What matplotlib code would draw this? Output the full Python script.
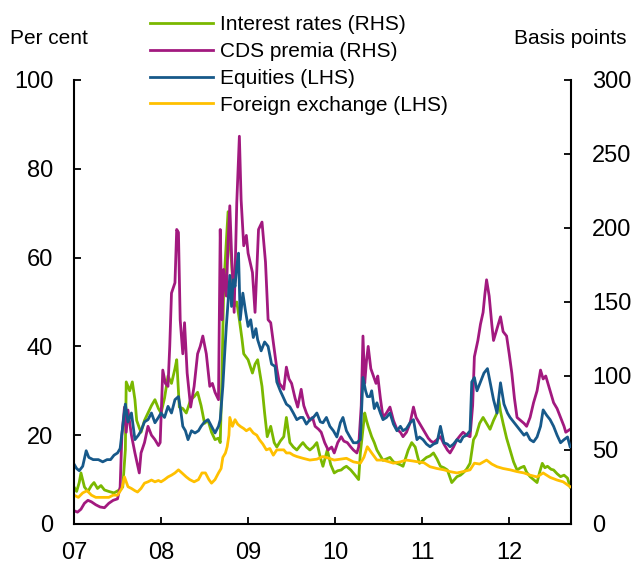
import matplotlib
matplotlib.use("Agg")
import matplotlib.pyplot as plt

plt.rcParams['font.family'] = ['Liberation Sans', 'DejaVu Sans']

# ---------------- data (decimal years) ----------------
eq_t = [2007.00, 2007.03, 2007.06, 2007.10, 2007.14, 2007.17, 2007.22, 2007.28, 2007.33, 2007.38,
        2007.42, 2007.46, 2007.50, 2007.53, 2007.56, 2007.59, 2007.62, 2007.66, 2007.70, 2007.74,
        2007.77, 2007.81, 2007.85, 2007.89, 2007.93, 2007.97, 2008.00, 2008.04, 2008.08, 2008.12,
        2008.16, 2008.20, 2008.23, 2008.25, 2008.28, 2008.31, 2008.35, 2008.39, 2008.43, 2008.46,
        2008.50, 2008.54, 2008.58, 2008.62, 2008.66, 2008.68, 2008.71, 2008.73, 2008.75, 2008.77,
        2008.79, 2008.81, 2008.83, 2008.85, 2008.87, 2008.89, 2008.91, 2008.94, 2008.97, 2009.00,
        2009.03, 2009.06, 2009.09, 2009.11, 2009.15, 2009.19, 2009.23, 2009.27, 2009.31, 2009.33,
        2009.37, 2009.40, 2009.44, 2009.48, 2009.52, 2009.56, 2009.60, 2009.63, 2009.67, 2009.71,
        2009.75, 2009.79, 2009.83, 2009.86, 2009.90, 2009.94, 2009.98, 2010.02, 2010.06, 2010.09,
        2010.13, 2010.17, 2010.21, 2010.25, 2010.29, 2010.32, 2010.35, 2010.37, 2010.40, 2010.42,
        2010.45, 2010.48, 2010.52, 2010.55, 2010.59, 2010.63, 2010.67, 2010.71, 2010.75, 2010.78,
        2010.82, 2010.86, 2010.90, 2010.94, 2010.97, 2011.01, 2011.05, 2011.09, 2011.13, 2011.17,
        2011.21, 2011.25, 2011.29, 2011.32, 2011.36, 2011.40, 2011.44, 2011.47, 2011.51, 2011.55,
        2011.57, 2011.60, 2011.63, 2011.67, 2011.71, 2011.75, 2011.78, 2011.82, 2011.86, 2011.90,
        2011.94, 2011.98, 2012.01, 2012.05, 2012.09, 2012.13, 2012.17, 2012.20, 2012.24, 2012.28,
        2012.32, 2012.36, 2012.39, 2012.43, 2012.47, 2012.51, 2012.55, 2012.59, 2012.63, 2012.67,
        2012.70]
eq_v = [13.5, 12.5, 12, 13, 16.5, 15, 14.5, 14.5, 14, 14.5,
        14.5, 15.5, 16, 17, 22, 27, 23, 25, 19, 20,
        21, 23, 23.5, 25, 22.8, 24, 25, 24, 26.5, 25,
        28, 28.7, 25, 22, 21, 19, 21, 20.5, 21, 22,
        23, 23.5, 22, 20.5, 22, 23.5, 31, 38, 44.5, 50,
        56, 49, 55, 53.5, 58, 61, 46, 52, 48, 44.5,
        46, 42, 44, 41.5, 39, 41, 40, 36, 35.5, 32,
        30, 28.7, 27, 26.4, 25, 23.5, 24, 24, 22.5, 23.5,
        24, 25, 23, 22.8, 24, 22, 21, 19.6, 22.8, 24,
        21, 19.6, 18.3, 18.3, 19, 33, 30, 28.7, 28.7, 30,
        26, 27.3, 25, 23.5, 24, 25, 22.5, 21, 22, 21,
        21.5, 22.8, 23.5, 19, 19.6, 19, 18, 17.4, 18, 18.3,
        22, 18.3, 18, 17.4, 18, 19, 18.5, 19.6, 20, 21,
        32, 33, 30, 32, 34, 35, 32, 28, 25, 31.8,
        27, 25, 24, 23, 22, 21, 20, 20.5, 19, 18.5,
        19.6, 22, 25.7, 24.5, 23.5, 22, 20, 18.3, 19, 19.6,
        17.4]

cds_t = [2007.00, 2007.04, 2007.08, 2007.12, 2007.16, 2007.20, 2007.25, 2007.30, 2007.35, 2007.40,
         2007.45, 2007.50, 2007.53, 2007.55, 2007.58, 2007.60, 2007.62, 2007.66, 2007.70, 2007.73,
         2007.75, 2007.77, 2007.81, 2007.85, 2007.89, 2007.93, 2007.97, 2007.99, 2008.02, 2008.05,
         2008.08, 2008.10, 2008.12, 2008.16, 2008.18, 2008.20, 2008.22, 2008.25, 2008.27, 2008.30,
         2008.34, 2008.38, 2008.42, 2008.45, 2008.48, 2008.52, 2008.56, 2008.59, 2008.62, 2008.66,
         2008.68, 2008.70, 2008.72, 2008.75, 2008.77, 2008.79, 2008.81, 2008.84, 2008.87, 2008.90,
         2008.92, 2008.95, 2008.98, 2009.00, 2009.05, 2009.08, 2009.12, 2009.16, 2009.20, 2009.23,
         2009.26, 2009.30, 2009.33, 2009.36, 2009.41, 2009.44, 2009.47, 2009.50, 2009.54, 2009.57,
         2009.61, 2009.64, 2009.67, 2009.71, 2009.74, 2009.77, 2009.81, 2009.84, 2009.88, 2009.92,
         2009.96, 2009.99, 2010.03, 2010.07, 2010.10, 2010.14, 2010.18, 2010.21, 2010.25, 2010.27,
         2010.30, 2010.32, 2010.34, 2010.36, 2010.38, 2010.41, 2010.44, 2010.47, 2010.49, 2010.52,
         2010.55, 2010.59, 2010.63, 2010.67, 2010.71, 2010.75, 2010.78, 2010.82, 2010.86, 2010.90,
         2010.93, 2010.97, 2011.00, 2011.03, 2011.07, 2011.10, 2011.13, 2011.17, 2011.21, 2011.25,
         2011.29, 2011.32, 2011.36, 2011.40, 2011.44, 2011.47, 2011.51, 2011.55, 2011.58, 2011.60,
         2011.64, 2011.67, 2011.70, 2011.72, 2011.74, 2011.77, 2011.80, 2011.82, 2011.86, 2011.90,
         2011.93, 2011.97, 2012.00, 2012.03, 2012.06, 2012.09, 2012.13, 2012.17, 2012.20, 2012.24,
         2012.28, 2012.32, 2012.36, 2012.39, 2012.42, 2012.46, 2012.51, 2012.55, 2012.59, 2012.63,
         2012.65, 2012.70]
cds_v = [9, 8, 10, 14, 16, 15, 13, 11.5, 11, 14,
         16, 17, 25, 60, 79, 62, 77, 60, 48, 40,
         34.5, 48, 55, 66, 60, 57, 53, 55, 104, 95,
         93, 120, 156, 163, 199, 197, 138, 115, 136, 102,
         79, 93, 115, 120, 127, 115, 93, 95, 89, 84,
         199, 138, 172, 154, 190, 215, 183, 143, 217, 262,
         219, 188, 195, 183, 170, 143, 199, 204, 177, 138,
         136, 118, 105, 95, 91, 106, 98, 95, 85, 79,
         91, 80, 75, 70, 72, 66, 64, 62, 55, 50,
         52, 48, 55, 59, 56, 55, 52, 50, 48, 52,
         80, 127, 95, 110, 120, 105, 100, 95, 100, 85,
         72, 75, 79, 70, 64, 62, 59, 62, 68, 79,
         72, 68, 65, 62, 58, 56, 55, 57, 59, 54,
         50, 48, 52, 57, 60, 62, 60, 59, 80, 113,
         124, 135, 143, 155, 165, 154, 135, 124, 132, 140,
         130, 127, 115, 102, 85, 72, 70, 68, 66, 72,
         82, 90, 104, 98, 100, 92, 82, 78, 72, 66,
         62, 64]

ir_t = [2007.00, 2007.03, 2007.06, 2007.08, 2007.12, 2007.16, 2007.20, 2007.23, 2007.27, 2007.31,
        2007.35, 2007.40, 2007.46, 2007.52, 2007.56, 2007.59, 2007.60, 2007.64, 2007.67, 2007.70,
        2007.72, 2007.75, 2007.77, 2007.81, 2007.85, 2007.89, 2007.93, 2007.97, 2008.00, 2008.04,
        2008.08, 2008.12, 2008.16, 2008.18, 2008.21, 2008.25, 2008.29, 2008.34, 2008.38, 2008.42,
        2008.46, 2008.50, 2008.54, 2008.58, 2008.62, 2008.66, 2008.68, 2008.70, 2008.72, 2008.75,
        2008.77, 2008.79, 2008.81, 2008.84, 2008.87, 2008.90, 2008.93, 2008.95, 2009.00, 2009.05,
        2009.08, 2009.11, 2009.16, 2009.19, 2009.22, 2009.26, 2009.30, 2009.33, 2009.37, 2009.41,
        2009.44, 2009.48, 2009.52, 2009.56, 2009.60, 2009.63, 2009.67, 2009.71, 2009.75, 2009.79,
        2009.83, 2009.86, 2009.91, 2009.95, 2009.99, 2010.03, 2010.07, 2010.10, 2010.13, 2010.18,
        2010.23, 2010.27, 2010.29, 2010.34, 2010.36, 2010.38, 2010.42, 2010.45, 2010.48, 2010.52,
        2010.55, 2010.59, 2010.63, 2010.67, 2010.71, 2010.75, 2010.78, 2010.84, 2010.88, 2010.92,
        2010.95, 2010.97, 2011.01, 2011.05, 2011.09, 2011.13, 2011.17, 2011.21, 2011.25, 2011.29,
        2011.34, 2011.37, 2011.40, 2011.44, 2011.47, 2011.51, 2011.55, 2011.59, 2011.62, 2011.66,
        2011.70, 2011.74, 2011.78, 2011.82, 2011.86, 2011.88, 2011.90, 2011.93, 2011.97, 2012.01,
        2012.05, 2012.09, 2012.13, 2012.17, 2012.20, 2012.24, 2012.28, 2012.32, 2012.35, 2012.38,
        2012.41, 2012.44, 2012.48, 2012.51, 2012.55, 2012.59, 2012.63, 2012.67, 2012.70]
ir_v = [25, 22, 28, 34.5, 25, 22, 26, 28, 24, 26,
        23, 22, 21, 23, 25, 50, 96, 90, 96, 84,
        70, 65, 62, 70, 75, 80, 84, 78, 75, 85,
        100, 95, 105, 111, 79, 78, 75, 84, 86, 89,
        80, 68, 70, 62, 57, 58, 55, 100, 160, 190,
        211, 190, 177, 147, 150, 138, 125, 115, 111, 102,
        108, 111, 93, 75, 59, 66, 55, 52, 56, 59,
        72, 55, 52, 50, 53, 55, 52, 50, 52, 55,
        45, 39, 50, 40, 34.5, 36, 36.5, 38, 39, 36.5,
        33, 30, 48, 75, 70, 66, 59, 55, 50, 46,
        43, 44, 45, 42, 41, 40, 39, 50, 55, 52,
        45, 41, 43, 45, 46, 48, 44, 39, 38, 36.5,
        28, 30, 32, 33, 34.5, 37, 41, 57, 60, 68,
        72, 68, 64, 70, 75, 84, 76, 68, 58, 50,
        42, 36.5, 38, 39, 35, 32, 30, 28, 35, 41,
        38, 39, 37, 36.5, 34, 32, 33, 31, 25]

fx_t = [2007.00, 2007.05, 2007.10, 2007.15, 2007.20, 2007.25, 2007.30, 2007.35, 2007.40, 2007.45,
        2007.50, 2007.55, 2007.58, 2007.62, 2007.66, 2007.70, 2007.73, 2007.77, 2007.81, 2007.85,
        2007.89, 2007.93, 2007.97, 2008.00, 2008.04, 2008.08, 2008.12, 2008.16, 2008.20, 2008.24,
        2008.29, 2008.33, 2008.38, 2008.43, 2008.47, 2008.51, 2008.55, 2008.58, 2008.62, 2008.66,
        2008.69, 2008.71, 2008.74, 2008.76, 2008.78, 2008.79, 2008.82, 2008.85, 2008.88, 2008.91,
        2008.95, 2008.98, 2009.02, 2009.06, 2009.10, 2009.13, 2009.17, 2009.21, 2009.25, 2009.29,
        2009.33, 2009.37, 2009.41, 2009.44, 2009.48, 2009.52, 2009.56, 2009.63, 2009.71, 2009.79,
        2009.86, 2009.93, 2009.99, 2010.06, 2010.13, 2010.21, 2010.29, 2010.33, 2010.37, 2010.42,
        2010.48, 2010.55, 2010.62, 2010.67, 2010.75, 2010.82, 2010.89, 2010.95, 2011.02, 2011.09,
        2011.17, 2011.25, 2011.32, 2011.40, 2011.47, 2011.55, 2011.60, 2011.66, 2011.74, 2011.80,
        2011.86, 2011.93, 2012.01, 2012.09, 2012.17, 2012.24, 2012.32, 2012.39, 2012.47, 2012.55,
        2012.62, 2012.70]
fx_v = [6.5, 6, 7, 7.5, 6.5, 6, 6, 6, 6, 6.5,
        6.5, 8, 10.6, 8.4, 8, 7.5, 7.2, 8, 9.2, 9.5,
        9.9, 9.5, 9.8, 9.5, 10, 10.6, 11, 11.5, 12.2, 11.5,
        10.6, 10, 9.5, 10, 11.5, 11.5, 10, 9.2, 10, 11.5,
        12.5, 15, 16, 17.4, 20, 24, 22, 23.5, 22.5, 22,
        21.5, 21, 21.5, 20.5, 20, 19, 18, 16.7, 17, 15.5,
        16.7, 16.7, 16.7, 16, 16, 15.5, 15.2, 14.8, 14.4, 14.6,
        15.2, 14.8, 14.4, 14.6, 14.8, 14, 13.7, 15, 17.4, 16,
        14.4, 14.4, 14, 13.7, 14, 14.4, 14.2, 14, 13.8, 12.9,
        12.5, 12.2, 11.8, 11.5, 11.8, 12.2, 13.7, 13.5, 14.4, 13.5,
        12.9, 12.5, 12.2, 11.8, 11.5, 11, 10.6, 11.5, 10.5, 9.9,
        9.5, 8.4]

labels = ['Interest rates (RHS)', 'CDS premia (RHS)', 'Equities (LHS)', 'Foreign exchange (LHS)']
colors = ['#7AB800', '#A2197F', '#17598A', '#FFC000']
year_ticks = [2007, 2008, 2009, 2010, 2011, 2012]
year_labels = ['07', '08', '09', '10', '11', '12']
left_ticks = [0, 20, 40, 60, 80, 100]
right_ticks = [0, 50, 100, 150, 200, 250, 300]

# ---------------- figure ----------------
W, H = 636, 565
fig = plt.figure(figsize=(W / 100, H / 100), dpi=100)
ax = fig.add_axes([74 / W, (H - 524) / H, 497 / W, 444 / H])
ax2 = ax.twinx()
ax.set_zorder(ax2.get_zorder() + 1)
ax.patch.set_visible(False)

lw = 2.0
l_ir, = ax2.plot(ir_t, ir_v, color=colors[0], lw=lw)
l_cds, = ax2.plot(cds_t, cds_v, color=colors[1], lw=lw)
l_eq, = ax.plot(eq_t, eq_v, color=colors[2], lw=lw)
l_fx, = ax.plot(fx_t, fx_v, color=colors[3], lw=lw)

ax.set_xlim(2007.0, 2012.71)
ax.set_ylim(0, 100)
ax2.set_ylim(0, 300)
ax.set_xticks(year_ticks)
ax.set_xticklabels(year_labels)
ax.set_yticks(left_ticks)
ax2.set_yticks(right_ticks)

for a in (ax, ax2):
    a.spines['top'].set_visible(False)
    for s in a.spines.values():
        s.set_linewidth(1.5)
ax.spines['right'].set_visible(False)
ax2.spines['left'].set_visible(False)
ax2.spines['bottom'].set_visible(False)

ax.tick_params(axis='y', direction='in', length=5, width=1.3, pad=15, labelsize=17)
ax.tick_params(axis='x', direction='in', length=5, width=1.3, pad=13, labelsize=17)
ax2.tick_params(axis='y', direction='in', length=5, width=1.3, pad=15, labelsize=17)

fig.text(10 / W, 1 - 38 / H, 'Per cent', fontsize=15, ha='left', va='center')
fig.text(626 / W, 1 - 38 / H, 'Basis points', fontsize=15, ha='right', va='center')

fig.legend([l_ir, l_cds, l_eq, l_fx], labels, loc='upper left',
           bbox_to_anchor=(150 / W, 1 - 15 / H), frameon=False, fontsize=15,
           handlelength=3.0, handletextpad=0.35, labelspacing=0.38,
           borderpad=0, borderaxespad=0)

fig.savefig('out.png', dpi=100)
